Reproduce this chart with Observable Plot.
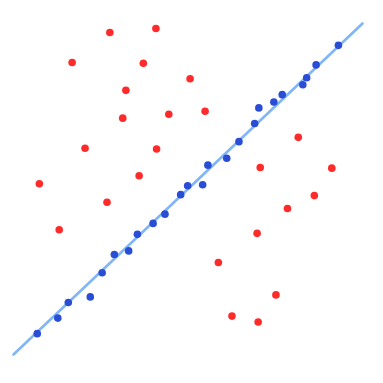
<!DOCTYPE html>
<html>
<head>
<meta charset="utf-8">
<script src="https://cdn.jsdelivr.net/npm/d3@7"></script>
<script src="https://cdn.jsdelivr.net/npm/@observablehq/plot@0.6"></script>
<style>
  html, body { margin: 0; padding: 0; background: #fff; }
</style>
</head>
<body>
<div id="chart"></div>
<script>
const redX = [2.76, 4.08, 1.68, 3.72, 5.06, 3.22, 3.13, 4.45, 2.05, 4.10, 3.60, 0.74, 5.49, 8.16, 7.07, 9.12, 2.68, 1.31, 8.62, 7.85, 6.98, 5.87, 7.52, 6.26, 7.01];
const redY = [9.73, 9.85, 8.82, 8.80, 8.33, 7.98, 7.14, 7.26, 6.23, 6.21, 5.40, 5.16, 7.35, 6.56, 5.65, 5.63, 4.60, 3.77, 4.80, 4.41, 3.66, 2.78, 1.80, 1.16, 0.98];
const blueX = [9.31, 8.67, 8.40, 8.29, 7.70, 7.46, 7.03, 6.91, 6.46, 6.11, 5.57, 5.42, 4.99, 4.79, 4.34, 4.00, 3.55, 3.30, 2.89, 2.54, 2.20, 1.57, 1.27, 0.68];
const blueY = [9.34, 8.75, 8.36, 8.15, 7.85, 7.63, 7.45, 6.98, 6.43, 5.93, 5.72, 5.13, 5.10, 4.83, 4.24, 3.96, 3.63, 3.13, 3.02, 2.47, 1.74, 1.57, 1.10, 0.63];
const lineX = [0, 10];
const lineY = [0, 10];

const red = redX.map((x, i) => ({x, y: redY[i]}));
const blue = blueX.map((x, i) => ({x, y: blueY[i]}));
const line = lineX.map((x, i) => ({x, y: lineY[i]}));

const chart = Plot.plot({
  width: 383,
  height: 383,
  marginLeft: 13,
  marginRight: 21,
  marginTop: 23,
  marginBottom: 29,
  x: {domain: [0, 10], axis: null},
  y: {domain: [0, 10], axis: null},
  marks: [
    Plot.line(line, {x: "x", y: "y", stroke: "#80b6f6", strokeWidth: 2.6}),
    Plot.dot(red, {x: "x", y: "y", r: 3.8, fill: "#ff2b2b"}),
    Plot.dot(blue, {x: "x", y: "y", r: 3.8, fill: "#2a4dd6"})
  ]
});
document.getElementById("chart").appendChild(chart);
</script>
</body>
</html>
